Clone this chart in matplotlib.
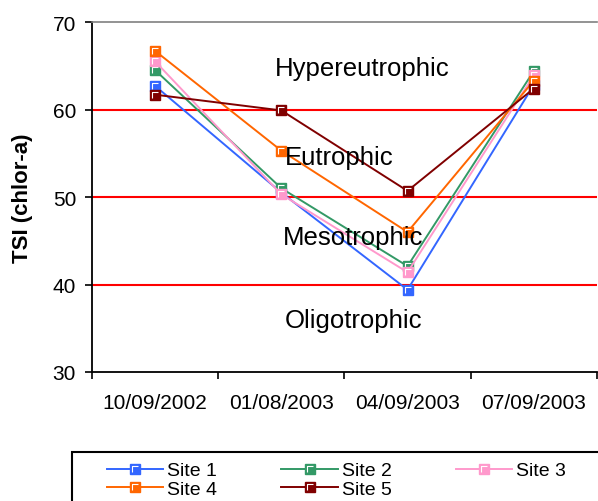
import matplotlib.pyplot as plt
from matplotlib.legend_handler import HandlerTuple
from matplotlib.patches import Rectangle
from matplotlib.path import Path


DATES = ["10/09/2002", "01/08/2003", "04/09/2003", "07/09/2003"]

SITE_NAMES = ["Site 1", "Site 2", "Site 3", "Site 4", "Site 5"]

SITE_1 = [62.7, 50.5, 39.4, 62.8]
SITE_2 = [64.5, 51.0, 42.1, 64.4]
SITE_3 = [65.5, 50.3, 41.4, 63.9]
SITE_4 = [66.7, 55.3, 46.0, 63.3]
SITE_5 = [61.7, 59.9, 50.7, 62.4]

SITE_COLORS = ["#3366FF", "#339966", "#FF99CC", "#FF6600", "#800000"]

# trophic class boundaries and the class names between them
BOUNDARIES = [40, 50, 60]
CLASS_LABELS = ["Hypereutrophic", "Eutrophic", "Mesotrophic", "Oligotrophic"]
CLASS_POS = [(1.64, 63.9), (1.46, 53.8), (1.57, 44.6), (1.575, 35.1)]

# legend is filled column by column, so reorder to read across rows
LEGEND_ORDER = [0, 3, 1, 4, 2]

# little white corner drawn on top of each square marker
CORNER = Path(
    [(-0.5, -0.5), (-0.5, 0.5), (0.5, 0.5)],
    [Path.MOVETO, Path.LINETO, Path.LINETO],
)


def main():
    plt.rcParams["font.family"] = ["Liberation Sans", "DejaVu Sans"]

    fig = plt.figure(figsize=(5.98, 5.02), dpi=100)
    ax = fig.add_axes([0.154, 0.257, 0.844, 0.697])

    for level in BOUNDARIES:
        ax.axhline(level, color="#FF0000", linewidth=1.5, zorder=1)

    x = list(range(len(DATES)))
    series = [SITE_1, SITE_2, SITE_3, SITE_4, SITE_5]

    handles = []
    for name, values, color in zip(SITE_NAMES, series, SITE_COLORS):
        (line,) = ax.plot(
            x,
            values,
            color=color,
            linewidth=1.4,
            marker="s",
            markersize=7.5,
            markeredgecolor=color,
            label=name,
            zorder=3,
        )
        (corner,) = ax.plot(
            x,
            values,
            linestyle="none",
            marker=CORNER,
            markersize=4,
            markerfacecolor="none",
            markeredgecolor="white",
            markeredgewidth=0.8,
            zorder=3,
        )
        handles.append((line, corner))

    for text, (tx, ty) in zip(CLASS_LABELS, CLASS_POS):
        ax.text(tx, ty, text, ha="center", va="baseline", fontsize=18.5)

    ax.set_xlim(-0.5, 3.5)
    ax.set_ylim(30, 70)

    ax.set_xticks(x)
    ax.set_xticklabels(DATES)
    ax.set_xticks([-0.5, 0.5, 1.5, 2.5, 3.5], minor=True)
    ax.tick_params(axis="x", which="major", length=0, pad=15, labelsize=15)
    ax.tick_params(axis="x", which="minor", length=5, width=1.2, direction="out")

    ax.set_yticks([30, 40, 50, 60, 70])
    ax.tick_params(axis="y", length=5, width=1.2, direction="out", pad=6.5, labelsize=15)

    ax.set_ylabel("TSI (chlor-a)", fontsize=16, fontweight="bold", labelpad=14)

    ax.spines["right"].set_visible(False)
    ax.spines["top"].set_color("#808080")
    ax.spines["top"].set_linewidth(1.2)
    ax.spines["left"].set_linewidth(1.3)
    ax.spines["bottom"].set_linewidth(1.3)

    fig.patches.append(
        Rectangle(
            (0.12, -0.02),
            0.9,
            0.118,
            transform=fig.transFigure,
            fill=False,
            edgecolor="black",
            linewidth=1.5,
        )
    )

    fig.legend(
        [handles[i] for i in LEGEND_ORDER],
        [SITE_NAMES[i] for i in LEGEND_ORDER],
        handler_map={tuple: HandlerTuple(ndivide=1)},
        loc="upper left",
        bbox_to_anchor=(0.179, 0.078),
        ncol=3,
        frameon=False,
        fontsize=14,
        borderpad=0,
        borderaxespad=0,
        handlelength=2.9,
        handletextpad=0.2,
        columnspacing=3.3,
        labelspacing=0.05,
    )

    fig.savefig("out.png", dpi=100)
    plt.close(fig)


if __name__ == "__main__":
    main()
